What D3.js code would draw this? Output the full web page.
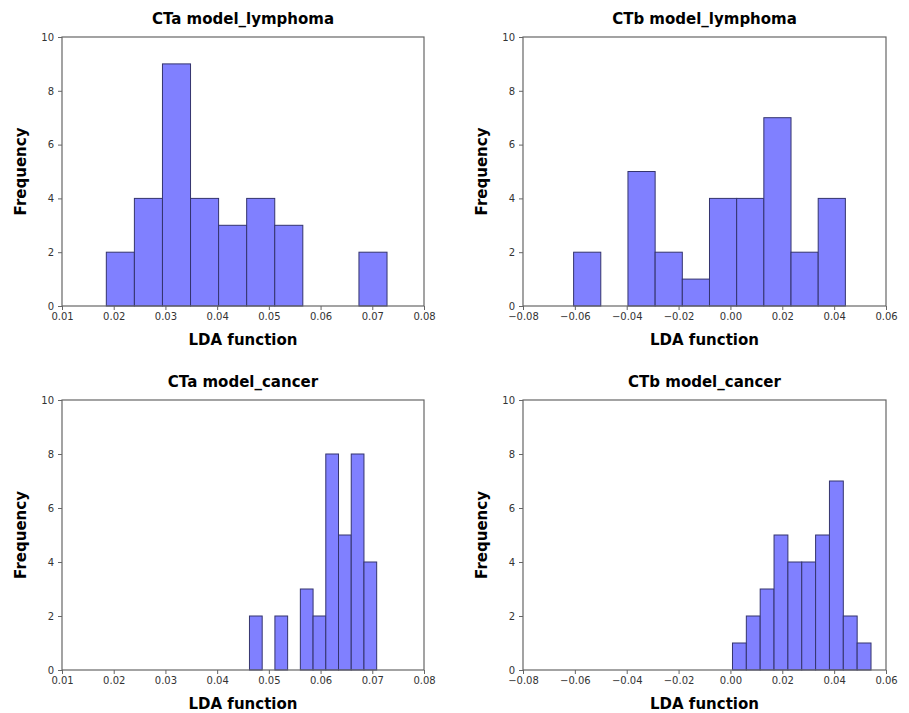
<!DOCTYPE html>
<html>
<head>
<meta charset="utf-8">
<script src="https://cdn.jsdelivr.net/npm/d3@7"></script>
<style>
  body { margin: 0; background: #fff; }
  svg { display: block; font-family: "DejaVu Sans", sans-serif; }
  .tick text { fill: #333; font-size: 10px; font-family: "DejaVu Sans", sans-serif; }
  .tick line, .domain { stroke: #666; }
</style>
</head>
<body>
<div id="chart"></div>
<script>
// panel titles
const titles = ["CTa model_lymphoma", "CTb model_lymphoma", "CTa model_cancer", "CTb model_cancer"];

// x-axis domains (and tick values)
const xDomains = [[0.01, 0.08], [-0.08, 0.06], [0.01, 0.08], [-0.08, 0.06]];
const xTicks = [
  [0.01, 0.02, 0.03, 0.04, 0.05, 0.06, 0.07, 0.08],
  [-0.08, -0.06, -0.04, -0.02, 0.00, 0.02, 0.04, 0.06],
  [0.01, 0.02, 0.03, 0.04, 0.05, 0.06, 0.07, 0.08],
  [-0.08, -0.06, -0.04, -0.02, 0.00, 0.02, 0.04, 0.06]
];

// histogram range per panel: first and last bin edge (10 equal bins)
const binRanges = [
  [0.01857, 0.07285],
  [-0.06048, 0.04433],
  [0.04625, 0.07085],
  [0.00079, 0.05422]
];

// counts per bin
const countsCTaLymphoma = [2, 4, 9, 4, 3, 4, 3, 0, 0, 2];
const countsCTbLymphoma = [2, 0, 5, 2, 1, 4, 4, 7, 2, 4];
const countsCTaCancer   = [2, 0, 2, 0, 3, 2, 8, 5, 8, 4];
const countsCTbCancer   = [1, 2, 3, 5, 4, 4, 5, 7, 2, 1];
const allCounts = [countsCTaLymphoma, countsCTbLymphoma, countsCTaCancer, countsCTbCancer];

const yTicks = [0, 2, 4, 6, 8, 10];

const W = 909, H = 713;
const svg = d3.select("#chart").append("svg")
  .attr("width", W).attr("height", H);

// panel boxes: left, right, top, bottom (pixels)
const cols = [[62, 424], [523, 886]];
const rows = [[37, 306], [400, 670]];

titles.forEach((title, i) => {
  const [x0, x1] = cols[i % 2];
  const [y0, y1] = rows[Math.floor(i / 2)];

  const x = d3.scaleLinear().domain(xDomains[i]).range([x0, x1]);
  const y = d3.scaleLinear().domain([0, 10]).range([y1, y0]);

  const g = svg.append("g");

  // bars
  const counts = allCounts[i];
  const [lo, hi] = binRanges[i];
  const step = (hi - lo) / counts.length;
  const bins = counts.map((c, k) => ({ a: lo + k * step, b: lo + (k + 1) * step, c }));

  g.selectAll("rect.bar")
    .data(bins.filter(d => d.c > 0))
    .join("rect")
    .attr("class", "bar")
    .attr("x", d => x(d.a))
    .attr("y", d => y(d.c))
    .attr("width", d => x(d.b) - x(d.a))
    .attr("height", d => y(0) - y(d.c))
    .attr("fill", "#8080ff")
    .attr("stroke", "#34346e")
    .attr("stroke-width", 1);

  // frame
  g.append("rect")
    .attr("x", x0).attr("y", y0)
    .attr("width", x1 - x0).attr("height", y1 - y0)
    .attr("fill", "none")
    .attr("stroke", "#666")
    .attr("stroke-width", 1.2);

  // axes
  const fmt = d3.format(".2f");
  g.append("g")
    .attr("transform", `translate(0,${y1})`)
    .call(d3.axisBottom(x).tickValues(xTicks[i]).tickSize(4).tickPadding(3)
      .tickFormat(d => fmt(d).replace("-", "\u2212")))
    .call(a => a.select(".domain").remove());

  g.append("g")
    .attr("transform", `translate(${x0},0)`)
    .call(d3.axisLeft(y).tickValues(yTicks).tickSize(4).tickPadding(4))
    .call(a => a.select(".domain").remove());

  // title
  g.append("text")
    .attr("x", (x0 + x1) / 2)
    .attr("y", y0 - 13)
    .attr("text-anchor", "middle")
    .attr("font-size", 15)
    .attr("font-weight", "bold")
    .text(title);

  // x label
  g.append("text")
    .attr("x", (x0 + x1) / 2)
    .attr("y", y1 + 39)
    .attr("text-anchor", "middle")
    .attr("font-size", 15)
    .attr("font-weight", "bold")
    .text("LDA function");

  // y label
  g.append("text")
    .attr("transform", `translate(${x0 - 36},${(y0 + y1) / 2}) rotate(-90)`)
    .attr("text-anchor", "middle")
    .attr("font-size", 15)
    .attr("font-weight", "bold")
    .text("Frequency");
});
</script>
</body>
</html>
